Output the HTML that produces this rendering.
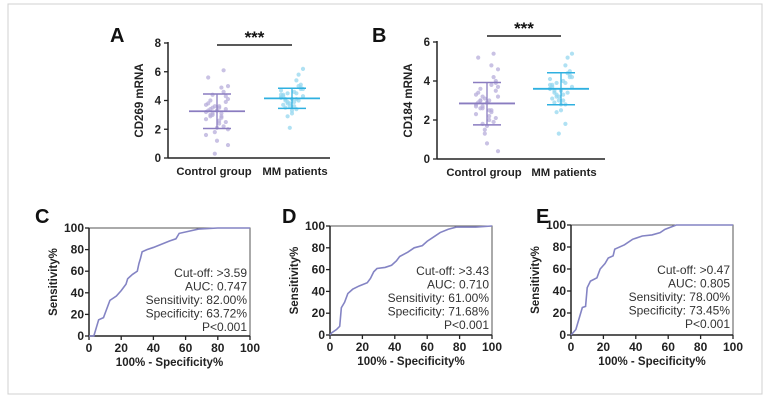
<!DOCTYPE html>
<html><head><meta charset="utf-8"><style>
body{margin:0;background:#fff;}
svg{display:block;font-family:"Liberation Sans",Arial,sans-serif;}
.b{font-weight:bold}
</style></head><body>
<svg id="s" width="769" height="405" viewBox="0 0 769 405">
<rect x="8" y="4" width="754" height="390" fill="none" stroke="#d0d0d0" stroke-width="1"/>
</svg>
<script>
const ctrlA=[3.2,2.8,3.5,4.1,2.4,3.0,3.9,2.1,3.3,4.6,1.8,3.7,2.9,3.1,5.0,2.6,3.4,4.3,1.2,3.8,2.2,3.6,2.7,4.9,3.0,0.9,3.5,4.0,2.5,3.3,5.6,6.1,0.3,1.6,3.1,4.4,2.0,3.6,2.9,3.4];
const mmA=[4.2,4.5,3.9,4.8,3.6,4.1,5.1,3.3,4.4,4.0,3.8,4.7,5.4,2.9,4.3,4.6,3.5,4.9,4.1,3.7,5.8,2.1,4.2,3.4,4.5,6.2,3.9,4.0,4.8,3.1,4.3,5.0,3.6,4.4,4.1,3.8];
const ctrlB=[2.8,2.4,3.2,3.7,2.0,2.6,3.5,1.7,2.9,4.2,1.5,3.3,2.5,2.7,4.6,2.2,3.0,3.9,0.8,3.4,1.9,3.1,2.3,4.8,2.6,0.4,3.0,3.6,2.1,2.9,5.2,5.4,1.3,2.7,3.8,1.8,3.2,2.5,3.0,4.0];
const mmB=[3.6,3.9,3.3,4.2,3.0,3.5,4.5,2.8,3.8,3.4,3.2,4.1,4.8,2.4,3.7,4.0,2.9,4.3,3.5,3.1,5.2,1.3,3.6,2.8,3.9,5.4,3.3,3.4,4.2,2.5,3.7,4.4,3.0,3.8,1.8,3.2];
const statsA={ctrl:[3.25,2.05,4.45],mm:[4.15,3.45,4.85]};
const statsB={ctrl:[2.85,1.75,3.92],mm:[3.6,2.78,4.42]};
const rocCx=[0,3,4,5,6,9,11,13,17,20,23,24,27,30,31,32,33,36,40,45,50,54,56,62,68,80,100];
const rocCy=[0,0,5,10,15,17,25,33,37,42,48,53,57,60,67,72,78,80,82,85,88,90,95,97,99,100,100];
const rocDx=[0,1,4,6,7,9,11,14,18,23,25,27,29,34,38,41,43,48,52,57,60,64,68,73,78,90,100];
const rocDy=[0,2,5,8,25,30,38,42,45,48,52,58,61,62,64,68,72,76,80,82,86,90,94,97,99,99,100];
const rocEx=[0,3,5,7,9,10,12,16,18,21,23,26,27,33,38,44,50,55,58,65,100];
const rocEy=[0,5,15,25,26,43,49,52,60,65,70,72,78,82,87,90,91,93,96,100,100];
const xTicks=[0,20,40,60,80,100];
const yTicks=[0,20,40,60,80,100];
const cats=["Control group","MM patients"];

const svg=document.getElementById('s');
const NS='http://www.w3.org/2000/svg';
function el(t,a,txt){const e=document.createElementNS(NS,t);for(const k in a)e.setAttribute(k,a[k]);if(txt!==undefined)e.textContent=txt;svg.appendChild(e);return e;}

function label(x,y,t){const e=el('text',{x:x,y:y,'font-size':20,'font-weight':'bold',fill:'#111'},t);

}

function dotPanel(p){
  const X0=p.ax,Y0=p.y0,Yt=p.yt,ymax=p.ymax;
  const sy=v=>Y0-(v/ymax)*(Y0-Yt);
  let e=el('line',{x1:X0,y1:Yt-1,x2:X0,y2:Y0,stroke:'#222','stroke-width':1.5});
  
  e=el('line',{x1:X0,y1:Y0,x2:p.xend,y2:Y0,stroke:'#222','stroke-width':1.5});
  
  for(let v=0;v<=ymax;v+=2){
    el('line',{x1:X0-4,y1:sy(v),x2:X0,y2:sy(v),stroke:'#222','stroke-width':1.3});
    e=el('text',{x:X0-7,y:sy(v)+4,'font-size':11.5,'text-anchor':'end',class:'b',fill:'#222'},v);
    
  }
  e=el('text',{x:0,y:0,'font-size':11.5,class:'b','text-anchor':'middle',fill:'#222',transform:`translate(${X0-25},${(Y0+Yt)/2}) rotate(-90)`},p.ytitle);
  
  const groups=[[p.ctrl,p.cx,'#b8aedb','#8a7cc0',p.st.ctrl,-3],[p.mm,p.mx,'#96d8f0','#2fb0e0',p.st.mm,3]];
  groups.forEach((g,gi)=>{
    g[0].forEach((v,i)=>{
      const dx=((i*7)%11-5)*2.2;
      e=el('circle',{cx:g[1]+dx,cy:sy(v),r:1.8,fill:g[2],stroke:g[2],'stroke-width':0.6,opacity:0.75});
      
    });
    const s=g[4];
    e=el('line',{x1:g[1]-28,y1:sy(s[0]),x2:g[1]+28,y2:sy(s[0]),stroke:g[3],'stroke-width':1.8});
    
    el('line',{x1:g[1],y1:sy(s[1]),x2:g[1],y2:sy(s[2]),stroke:g[3],'stroke-width':1.3});
    el('line',{x1:g[1]-14,y1:sy(s[1]),x2:g[1]+14,y2:sy(s[1]),stroke:g[3],'stroke-width':1.5});
    el('line',{x1:g[1]-14,y1:sy(s[2]),x2:g[1]+14,y2:sy(s[2]),stroke:g[3],'stroke-width':1.5});
    e=el('text',{x:g[1]+g[5],y:Y0+17,'font-size':11.3,class:'b','text-anchor':'middle',fill:'#222'},cats[gi]);
    
  });
  e=el('line',{x1:p.cx,y1:p.sigy,x2:p.mx,y2:p.sigy,stroke:'#222','stroke-width':1.5});
  
  e=el('text',{x:(p.cx+p.mx)/2,y:p.sigy-2,'font-size':17,class:'b','text-anchor':'middle',fill:'#111'},'***');
  
}
dotPanel({id:'panel-a',ax:168,y0:158,yt:43,ymax:8,xend:330,cx:217,mx:292,sigy:45,ytitle:'CD269 mRNA',ctrl:ctrlA,mm:mmA,st:statsA});
dotPanel({id:'panel-b',ax:437,y0:159,yt:42,ymax:6,xend:605,cx:487,mx:561,sigy:36,ytitle:'CD184 mRNA',ctrl:ctrlB,mm:mmB,st:statsB});
label(110,42,'A');label(372,42,'B');

function roc(p){
  const x0=p.x0,x1=p.x1,y0=p.y0,y1=p.y1;
  const sx=v=>x0+v/100*(x1-x0), sy=v=>y0-v/100*(y0-y1);
  let e=el('rect',{x:x0,y:y1,width:x1-x0,height:y0-y1,fill:'none',stroke:'#555','stroke-width':1});
  
  el('line',{x1:x0,y1:y1,x2:x0,y2:y0,stroke:'#222','stroke-width':1.5});
  el('line',{x1:x0,y1:y0,x2:x1,y2:y0,stroke:'#222','stroke-width':1.5});
  xTicks.forEach(v=>{
    el('line',{x1:sx(v),y1:y0,x2:sx(v),y2:y0+4,stroke:'#222','stroke-width':1.3});
    e=el('text',{x:sx(v),y:y0+16,'font-size':12,class:'b','text-anchor':'middle',fill:'#222'},v);
    
  });
  yTicks.forEach(v=>{
    el('line',{x1:x0-4,y1:sy(v),x2:x0,y2:sy(v),stroke:'#222','stroke-width':1.3});
    e=el('text',{x:x0-5,y:sy(v)+4,'font-size':12,class:'b','text-anchor':'end',fill:'#222'},v);
    
  });
  const pts=p.xs.map((v,i)=>sx(v)+','+sy(p.ys[i])).join(' ');
  e=el('polyline',{points:pts,fill:'none',stroke:'#8484c4','stroke-width':1.6});
  
  p.txt.forEach((t,i)=>{
    e=el('text',{x:x1-3,y:y1+49+i*13.5,'font-size':12,'text-anchor':'end',fill:'#333'},t);
    
  });
  e=el('text',{x:(x0+x1)/2,y:y0+30,'font-size':11.5,class:'b','text-anchor':'middle',fill:'#222'},'100% - Specificity%');
  
  e=el('text',{x:0,y:0,'font-size':11.5,class:'b','text-anchor':'middle',fill:'#222',transform:`translate(${x0-32},${(y0+y1)/2}) rotate(-90)`},'Sensitivity%');
  
}
roc({id:'panel-c',x0:89,x1:250,y0:336,y1:228,xs:rocCx,ys:rocCy,txt:['Cut-off: >3.59','AUC: 0.747','Sensitivity: 82.00%','Specificity: 63.72%','P<0.001']});
roc({id:'panel-d',x0:330,x1:492,y0:335,y1:226,xs:rocDx,ys:rocDy,txt:['Cut-off: >3.43','AUC: 0.710','Sensitivity: 61.00%','Specificity: 71.68%','P<0.001']});
roc({id:'panel-e',x0:571,x1:733,y0:335,y1:225,xs:rocEx,ys:rocEy,txt:['Cut-off: >0.47','AUC: 0.805','Sensitivity: 78.00%','Specificity: 73.45%','P<0.001']});
label(35,223,'C');label(282,223,'D');label(536,223,'E');
</script>
</body></html>
